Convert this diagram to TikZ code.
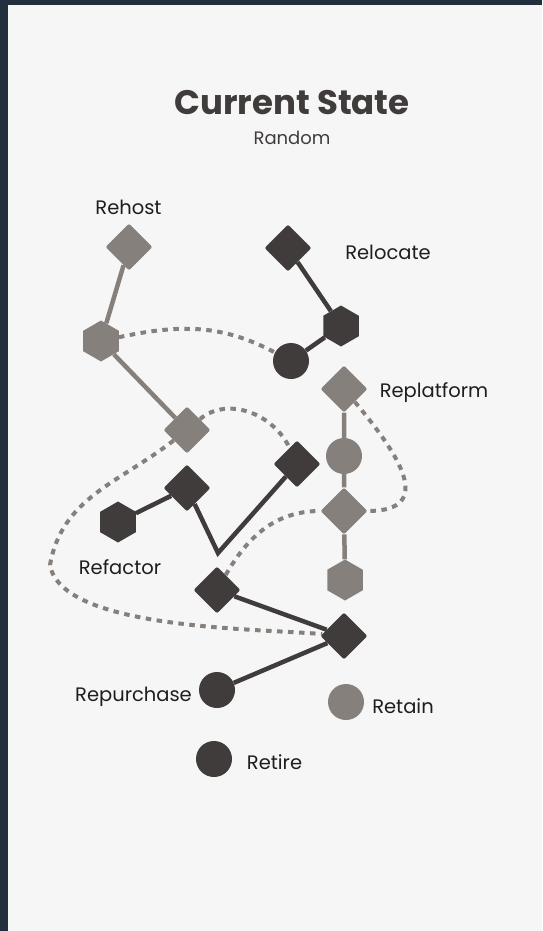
\documentclass[tikz,border=0pt]{standalone}
\usepackage{fontspec}
\setmainfont{Poppins}
\usetikzlibrary{shapes.geometric}
\definecolor{frame}{HTML}{222F3E}
\definecolor{paper}{HTML}{F6F6F6}
\definecolor{ink}{HTML}{403C3B}
\definecolor{ash}{HTML}{86807D}
\definecolor{lbl}{HTML}{1E1E1E}

\begin{document}
\begin{tikzpicture}[x=1pt, y=-1pt,
  dia/.style={diamond, inner sep=0pt, minimum size=47pt, rounded corners=2pt},
  hex/.style={regular polygon, regular polygon sides=6, shape border rotate=30, inner sep=0pt, minimum size=41pt},
  disc/.style={circle, inner sep=0pt, minimum size=36pt},
  dk/.style={fill=ink},
  lt/.style={fill=ash},
  dkline/.style={draw=ink, line width=4.5pt},
  ltline/.style={draw=ash, line width=4.5pt},
  dotline/.style={draw=ash, line width=4pt, dash pattern=on 5.5pt off 5.5pt},
  lab/.style={font=\fontsize{19.5}{24}\selectfont, text=lbl, inner sep=0pt, anchor=base}]
\useasboundingbox (0,0) rectangle (542,931);
\fill[frame] (0,0) rectangle (542,931);
\fill[paper] (7.5,5) rectangle (542,931);
% heading
\node[font=\fontsize{34}{40}\selectfont\bfseries, text=ink, inner sep=0pt, anchor=base] (ttl) at (292,115) {Current State};
\node[font=\fontsize{18}{22}\selectfont, text=ink, inner sep=0pt, anchor=base] (sub) at (292,144) {Random};
% rehost
\node[dia, lt] (rh1) at (129,247) {};
\node[hex, lt] (rh2) at (101,341) {};
\node[dia, lt] (rh3) at (187,430) {};
% relocate
\node[dia, dk] (rl1) at (288,248) {};
\node[hex, dk] (rl2) at (341,326) {};
\node[disc, dk] (rl3) at (291,361) {};
% replatform
\node[dia, lt] (rp1) at (344,389) {};
\node[disc, lt] (rp2) at (344,456) {};
\node[dia, lt] (rp3) at (344,511) {};
\node[hex, lt] (rp4) at (345,580) {};
% refactor
\node[hex, dk] (rf1) at (118,522) {};
\node[dia, dk] (rf2) at (187,488) {};
\coordinate (rfv) at (218,553);
\node[dia, dk] (rf3) at (297,464) {};
\node[dia, dk] (rf4) at (217,590) {};
\node[dia, dk] (hub) at (344,636) {};
% the rest
\node[disc, dk] (rpc) at (217,690) {};
\node[disc, lt] (rtn) at (346,702) {};
\node[disc, dk] (rtr) at (214,759) {};
\node[lab] (lrh) at (128.5,214) {Rehost};
\node[lab] (lrl) at (388,259) {Relocate};
\node[lab] (lrp) at (434,397) {Replatform};
\node[lab] (lrf) at (120,574) {Refactor};
\node[lab] (lpc) at (133.5,701) {Repurchase};
\node[lab] (ltn) at (403,713) {Retain};
\node[lab] (ltr) at (274.5,769) {Retire};
\draw[ltline] (rh1) -- (rh2) -- (rh3);
\draw[dkline] (rl1) -- (rl2) -- (rl3);
\draw[ltline] (rp1) -- (rp2) -- (rp3) -- (rp4);
\draw[dkline] (rf1) -- (rf2) -- (rfv) -- (rf3);
\draw[dkline] (rf4) -- (hub) -- (rpc);
% dotted links
\coordinate (lp) at (50,565);
\draw[dotline] (rh2) to[out=12, in=152] (rl3);
\draw[dotline] (rh3) to[out=40, in=115] (rf3);
\draw[dotline] (rh3) to[out=218, in=80] (lp) to[out=-80, in=175, looseness=0.6] (hub);
\draw[dotline] (rf4) to[out=60, in=180] (rp3);
\draw[dotline] (rp1) to[out=-50, in=0, looseness=1.6] (rp3);
\end{tikzpicture}
\end{document}
